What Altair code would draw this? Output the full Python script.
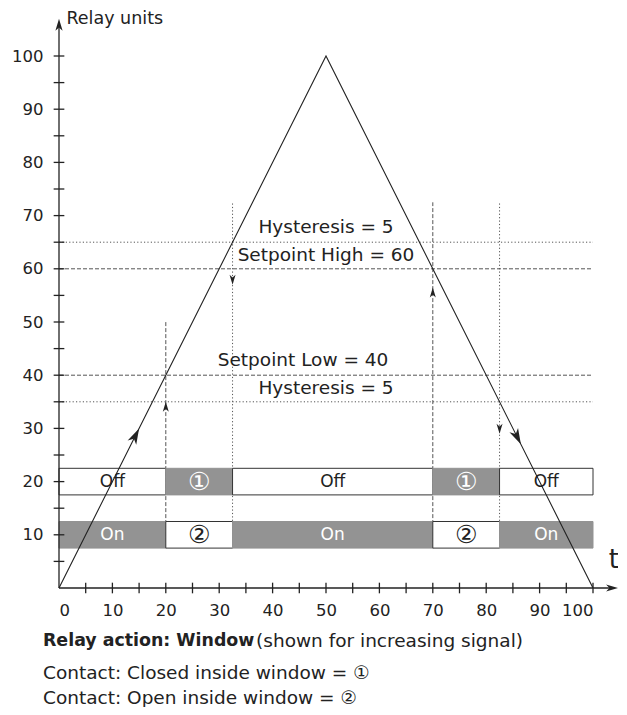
import altair as alt
import pandas as pd

# ---- data ----
# input signal (triangle)
t_signal = [0, 50, 100]
v_signal = [0, 100, 0]

# threshold levels
thr_values = [65, 60, 40, 35]
thr_kind = ["dotted", "dashed", "dashed", "dotted"]

# switching instants
sw_t = [20, 32.5, 70, 82.5]
sw_top = [50, 72.5, 72.5, 72.5]
sw_kind = ["dashed", "dotted", "dashed", "dotted"]

# relay state segments
seg_start = [0, 20, 32.5, 70, 82.5]
seg_end = [20, 32.5, 70, 82.5, 100]
off_row_labels = ["Off", "①", "Off", "①", "Off"]
off_row_fill = ["white", "gray", "white", "gray", "white"]
on_row_labels = ["On", "②", "On", "②", "On"]
on_row_fill = ["gray", "white", "gray", "white", "gray"]
row_center = [20, 10]
row_half = 2.5

# arrowheads (tip position and heading in degrees)
arrow_t = [15, 86.5, 20, 32.5, 70, 82.5]
arrow_v = [30, 27, 35, 57, 56.5, 29]
arrow_heading = [26.6, 153.4, 0, 180, 0, 180]
arrow_kind = ["big", "big", "small", "small", "small", "small"]

# annotations
ann_text = ["Hysteresis = 5", "Setpoint High = 60", "Setpoint Low = 40", "Hysteresis = 5"]
ann_t = [50, 50, 45.7, 50]
ann_v = [67.9, 62.6, 42.9, 37.6]

caption_bold = "Relay action: Window"
caption_rest = "(shown for increasing signal)"
caption_lines = ["Contact: Closed inside window = ①", "Contact: Open inside window = ②"]

tick_vals = list(range(5, 101, 5))
y_label_vals = list(range(10, 101, 10))
x_label_vals = list(range(0, 101, 10))

FONT = "DejaVu Sans"
INK = "#222222"
GRAY = "#939393"
TXT = 18.5

xs = alt.Scale(domain=[0, 100], nice=False, zero=False)
ys = alt.Scale(domain=[0, 100], nice=False, zero=False)
x_axis = alt.Axis(values=x_label_vals, title=None, grid=False, domain=False, ticks=False,
                  labelPadding=14, labelFontSize=16.5, labelFont=FONT, labelColor=INK,
                  format="d", labelOverlap=False)
y_axis = alt.Axis(values=y_label_vals, title=None, grid=False, domain=False, ticks=False,
                  labelPadding=16, labelFontSize=16.5, labelFont=FONT, labelColor=INK,
                  format="d", labelOverlap=False)


def X(f):
    return alt.X(f, scale=xs, axis=x_axis)


def Y(f):
    return alt.Y(f, scale=ys, axis=y_axis)


dash_scale = alt.Scale(domain=["dashed", "dotted"], range=[[4, 2], [1.2, 2.2]])

# ---- layers ----
thr_df = pd.DataFrame({"v": thr_values, "kind": thr_kind, "a": 0, "b": 100})
thr = alt.Chart(thr_df).mark_rule(color="#555555", strokeWidth=1).encode(
    x=X("a:Q"), x2="b:Q", y=Y("v:Q"),
    strokeDash=alt.StrokeDash("kind:N", scale=dash_scale, legend=None),
)

sw_df = pd.DataFrame({"t": sw_t, "top": sw_top, "kind": sw_kind, "bot": 7.5})
sw = alt.Chart(sw_df).mark_rule(color="#555555", strokeWidth=1).encode(
    x=X("t:Q"), y=Y("bot:Q"), y2="top:Q",
    strokeDash=alt.StrokeDash("kind:N", scale=dash_scale, legend=None),
)

fill_map = {"white": "#ffffff", "gray": GRAY}
rows = []
for i in range(len(seg_start)):
    for lab, fl, c in ((off_row_labels[i], off_row_fill[i], row_center[0]),
                       (on_row_labels[i], on_row_fill[i], row_center[1])):
        rows.append({"s": seg_start[i], "e": seg_end[i], "c": c, "lab": lab,
                     "fill": fill_map[fl],
                     "stroke": "#333333" if fl == "white" else GRAY,
                     "tcol": INK if fl == "white" else "#ffffff",
                     "fs": 25 if lab in ("①", "②") else 17})
bar_df = pd.DataFrame(rows)
bar_df["lo"] = bar_df["c"] - row_half
bar_df["hi"] = bar_df["c"] + row_half
bar_df["mid"] = (bar_df["s"] + bar_df["e"]) / 2

bars = alt.Chart(bar_df).mark_rect(strokeWidth=1).encode(
    x=X("s:Q"), x2="e:Q", y=Y("lo:Q"), y2="hi:Q",
    fill=alt.Fill("fill:N", scale=None),
    stroke=alt.Stroke("stroke:N", scale=None),
)
bar_text = alt.Chart(bar_df).mark_text(font=FONT, baseline="middle", align="center").encode(
    x=X("mid:Q"), y=Y("c:Q"), text="lab:N",
    color=alt.Color("tcol:N", scale=None),
    size=alt.Size("fs:Q", scale=None),
)

sig_df = pd.DataFrame({"t": t_signal, "v": v_signal, "o": range(len(t_signal))})
sig = alt.Chart(sig_df).mark_line(color=INK, strokeWidth=1.1).encode(
    x=X("t:Q"), y=Y("v:Q"), order="o:Q",
)

# axes lines with arrows, and crossing ticks
axis_df = pd.DataFrame({"x0": [0, 0], "y0": [0, 0], "x1": [0, 103.6], "y1": [106.3, 0]})
axis_lines = alt.Chart(axis_df).mark_rule(color=INK, strokeWidth=1.3).encode(
    x=X("x0:Q"), x2="x1:Q", y=Y("y0:Q"), y2="y1:Q",
)
ytick_df = pd.DataFrame({"v": tick_vals, "a": -1, "b": 1})
yticks = alt.Chart(ytick_df).mark_rule(color=INK, strokeWidth=1.3).encode(
    x=X("a:Q"), x2="b:Q", y=Y("v:Q"),
)
xtick_df = pd.DataFrame({"t": tick_vals, "a": -1, "b": 1})
xticks = alt.Chart(xtick_df).mark_rule(color=INK, strokeWidth=1.3).encode(
    x=X("t:Q"), y=Y("a:Q"), y2="b:Q",
)

ARROW = "M0,0L0.6,2L0,1.45L-0.6,2Z"
arr_df = pd.DataFrame({"t": arrow_t, "v": arrow_v, "ang": arrow_heading,
                       "sz": [256 if k == "big" else 100 for k in arrow_kind]})
ax_arr_df = pd.DataFrame({"t": [0, 104.7], "v": [107.0, 0], "ang": [0, 90], "sz": [144, 144]})
arr_df = pd.concat([arr_df, ax_arr_df], ignore_index=True)
arrows = alt.Chart(arr_df).mark_point(shape=ARROW, filled=True, color=INK, opacity=1, strokeWidth=0).encode(
    x=X("t:Q"), y=Y("v:Q"),
    angle=alt.Angle("ang:Q", scale=None),
    size=alt.Size("sz:Q", scale=None),
)

ann_df = pd.DataFrame({"t": ann_t, "v": ann_v, "txt": ann_text})
ann = alt.Chart(ann_df).mark_text(font=FONT, fontSize=TXT, color=INK, align="center", baseline="middle").encode(
    x=X("t:Q"), y=Y("v:Q"), text="txt:N",
)

# axis titles
ylab = alt.Chart(pd.DataFrame({"t": [1.4], "v": [107.0], "txt": ["Relay units"]})).mark_text(
    font=FONT, fontSize=17.5, color=INK, align="left", baseline="middle").encode(
    x=X("t:Q"), y=Y("v:Q"), text="txt:N")
xlab = alt.Chart(pd.DataFrame({"t": [103.9], "v": [5.2], "txt": ["t"]})).mark_text(
    font=FONT, fontSize=26, color=INK, align="center", baseline="middle").encode(
    x=X("t:Q"), y=Y("v:Q"), text="txt:N")

# caption below the chart
cap_bold = alt.Chart(pd.DataFrame({"t": [-3.0], "v": [-10.0], "txt": [caption_bold]})).mark_text(
    font=FONT, fontSize=17.4, fontWeight="bold", color=INK, align="left", baseline="middle").encode(
    x=X("t:Q"), y=Y("v:Q"), text="txt:N")
cap_df = pd.DataFrame({"t": [36.9, -3.0, -3.0], "v": [-10.0, -16.0, -20.6],
                       "txt": [caption_rest] + caption_lines})
cap = alt.Chart(cap_df).mark_text(font=FONT, fontSize=TXT, color=INK, align="left", baseline="middle").encode(
    x=X("t:Q"), y=Y("v:Q"), text="txt:N")

chart = alt.layer(thr, sw, bars, sig, bar_text, axis_lines, yticks, xticks, arrows, ann,
                  ylab, xlab, cap_bold, cap).properties(
    width=534, height=532,
    autosize=alt.AutoSizeParams(type="none"),
    padding={"left": 51, "top": 48, "right": 25, "bottom": 119},
).configure(font=FONT).configure_view(stroke=None)

chart.save("out.html", embed_options={"renderer": "svg", "actions": False})
